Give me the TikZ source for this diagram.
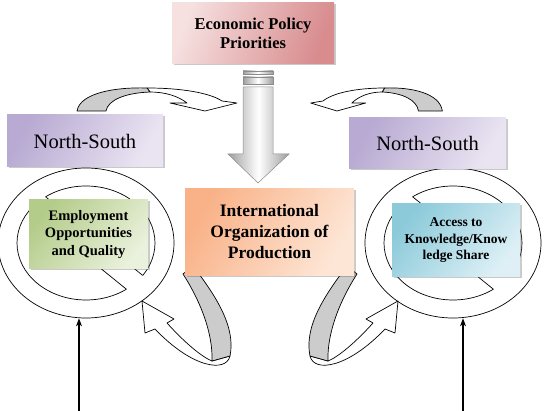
\documentclass[tikz,border=0pt]{standalone}
\usepackage{fontspec}
\setmainfont{Liberation Serif}
\usetikzlibrary{shapes.geometric,shadows,arrows.meta}

\definecolor{pinkA}{RGB}{246,224,224}
\definecolor{pinkB}{RGB}{216,140,142}
\definecolor{lilacA}{RGB}{184,170,210}
\definecolor{lilacB}{RGB}{234,228,242}
\definecolor{peachA}{RGB}{249,178,136}
\definecolor{peachB}{RGB}{253,230,214}
\definecolor{leafA}{RGB}{180,204,138}
\definecolor{leafB}{RGB}{234,241,220}
\definecolor{skyA}{RGB}{140,202,218}
\definecolor{skyB}{RGB}{222,240,246}
\definecolor{ribbon}{RGB}{204,204,204}

% inner part of a ring: two openings separated by a diagonal bar
\newcommand\RingHoles[1]{%
  \begin{scope}[shift={(#1.center)}]
    \begin{scope}
      \clip[rotate=-39] (-120,10.5) rectangle (120,120);
      \draw[ringline] (0,0) ellipse [x radius=69pt, y radius=57pt];
    \end{scope}
    \begin{scope}
      \clip[rotate=-39] (-120,-10.5) rectangle (120,-120);
      \draw[ringline] (0,0) ellipse [x radius=69pt, y radius=57pt];
    \end{scope}
    \begin{scope}
      \clip (0,0) ellipse [x radius=69pt, y radius=57pt];
      \draw[ringline, rotate=-39] (-120,10.5) -- (120,10.5) (-120,-10.5) -- (120,-10.5);
    \end{scope}
  \end{scope}}

% curved arrow over a North-South box (back face grey, front face white)
\newcommand\TopBend{%
  \draw[bendline, fill=white]
    (147,-88) .. controls (182,-88) and (210,-93) .. (222,-101)
    -- (237,-103) -- (205,-111) -- (170,-103) -- (187,-103)
    .. controls (178,-96) and (165,-92) .. (150,-92) -- cycle;
  \draw[bendline, fill=ribbon]
    (77,-111) .. controls (80,-93) and (115,-87) .. (147,-88)
    -- (150,-92) .. controls (125,-93) and (108,-100) .. (106,-111) -- cycle;}

% ribbon arrow from the production box round to a ring
\newcommand\LowBend{%
  \draw[bendline, fill=white]
    (230,-356) .. controls (226,-373) and (192,-368) .. (155,-329)
    -- (145,-333) -- (142,-301) -- (174,-319) -- (167,-323)
    .. controls (185,-343) and (202,-357) .. (212,-361) -- cycle;
  \draw[bendline, fill=ribbon]
    (183,-274) -- (193,-266) .. controls (216,-296) and (236,-327) .. (230,-356)
    -- (212,-361) .. controls (213,-334) and (201,-302) .. (183,-274) -- cycle;}

\begin{document}
\begin{tikzpicture}[x=1pt, y=1pt,
  box/.style={rectangle, inner sep=2pt, align=center,
    drop shadow={shadow xshift=1.5pt, shadow yshift=-1.5pt, opacity=0.3, fill=black!70}},
  ring/.style={ellipse, draw, line width=0.7pt, inner sep=0pt,
    minimum width=176pt, minimum height=150pt},
  ringline/.style={line width=0.7pt},
  bendline/.style={draw=black, line width=0.7pt, line join=round},
  feed/.style={line width=1.1pt, -{Stealth[length=8pt, width=6pt]}},
  pipe/.style={draw=black!45, line width=0.5pt, shading=axis,
    left color=black!38, right color=black!38, middle color=white}
]
\useasboundingbox (0,0) rectangle (544,-411);

% rings
\node[ring] (ringL) at (86,-243) {};
\node[ring] (ringR) at (453,-243) {};
\RingHoles{ringL}
\RingHoles{ringR}

% feeding arrows from below
\coordinate (baseL) at (79,-411);
\coordinate (baseR) at (463,-411);
\draw[feed] (baseL) -- (baseL |- ringL.south);
\draw[feed] (baseR) -- (baseR |- ringR.south);

% striped downward arrow
\path[pipe] (243,-71) rectangle (273,-74);
\path[pipe] (243,-77) rectangle (273,-84);
\path[pipe] (243,-87) -- (273,-87) -- (273,-154) -- (289,-154)
  -- (258,-183) -- (228,-154) -- (243,-154) -- cycle;

% curved arrows over the North-South boxes
\TopBend
\begin{scope}[xshift=505.7pt, xscale=-0.823]
  \TopBend
\end{scope}

% ribbon arrows under the production box
\LowBend
\begin{scope}[xshift=540pt, xscale=-1]
  \LowBend
\end{scope}

% boxes
\node[box, minimum width=162pt, minimum height=61pt,
  left color=pinkA, right color=pinkB, shading angle=70,
  font=\fontsize{16.5}{19}\selectfont\bfseries] (policy) at (253,-33.5)
  {Economic Policy\\Priorities};

\node[box, minimum width=156pt, minimum height=52pt,
  left color=lilacA, right color=lilacB, shading angle=60,
  font=\fontsize{20.5}{24}\selectfont] (nsL) at (85,-141) {North-South};
\node[box, minimum width=157pt, minimum height=51pt,
  left color=lilacA, right color=lilacB, shading angle=60,
  font=\fontsize{20.5}{24}\selectfont] (nsR) at (427.5,-143.5) {North-South};

\node[box, minimum width=169pt, minimum height=87pt,
  left color=peachA, right color=peachB, shading angle=60,
  font=\fontsize{17.5}{21}\selectfont\bfseries] (prod) at (269.5,-232)
  {International\\Organization of\\Production};

\node[box, minimum width=119pt, minimum height=69pt,
  left color=leafA, right color=leafB, shading angle=50,
  font=\fontsize{14.5}{17.5}\selectfont\bfseries] (jobs) at (88.5,-234.5)
  {Employment\\Opportunities\\and Quality};

\node[box, minimum width=128pt, minimum height=73pt,
  left color=skyA, right color=skyB, shading angle=50,
  font=\fontsize{13.5}{16.5}\selectfont\bfseries] (know) at (456,-240.5)
  {Access to\\Knowledge/Know\\ledge Share};
\end{tikzpicture}
\end{document}
